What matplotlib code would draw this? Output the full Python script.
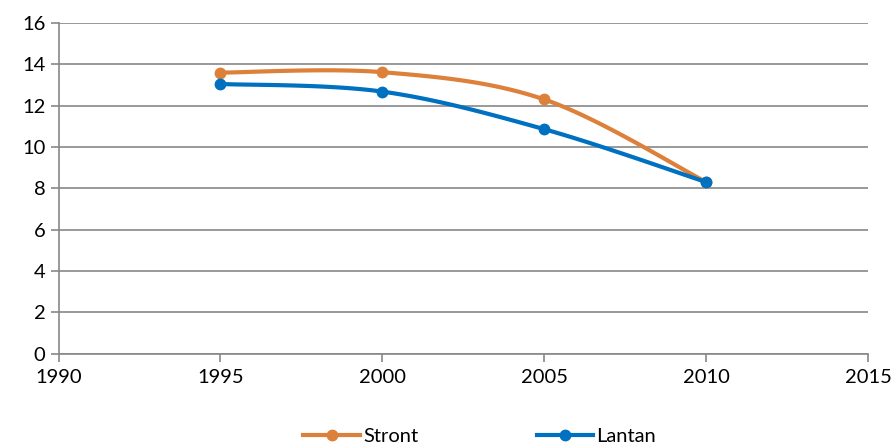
import numpy as np
import matplotlib.pyplot as plt

plt.rcParams['font.family'] = ['Lato', 'DejaVu Sans']

# data
years = [1995, 2000, 2005, 2010]
stront = [13.6, 13.62, 12.3, 8.3]
lantan = [13.05, 12.68, 10.86, 8.3]
series_names = ['Stront', 'Lantan']
series_colors = ['#DD8039', '#0070C0']


def smooth(xs, ys, n=40):
    # Excel-like smoothed line: cubic Bezier with Catmull-Rom control points
    p = np.column_stack([xs, ys]).astype(float)
    p_ext = np.vstack([p[0], p, p[-1]])
    out = []
    t = np.linspace(0, 1, n)[:, None]
    for i in range(len(p) - 1):
        a, b = p_ext[i + 1], p_ext[i + 2]
        c1 = a + (b - p_ext[i]) / 6
        c2 = b - (p_ext[i + 3] - a) / 6
        seg = ((1 - t) ** 3) * a + 3 * ((1 - t) ** 2) * t * c1 + 3 * (1 - t) * t ** 2 * c2 + t ** 3 * b
        out.append(seg if i == 0 else seg[1:])
    out = np.vstack(out)
    return out[:, 0], out[:, 1]


fig = plt.figure(figsize=(8.95, 4.45), dpi=100)
ax = fig.add_axes([0.0654, 0.2052, 0.9048, 0.7431])

grid_col = '#888888'
for name, vals, col in zip(series_names, [stront, lantan], series_colors):
    sx, sy = smooth(years, vals)
    ax.plot(sx, sy, color=col, lw=3, solid_capstyle='round')
    ax.plot(years, vals, 'o', color=col, ms=7.5)
    ax.plot([], [], color=col, lw=3, marker='o', ms=7.5, label=name)

ax.set_xlim(1990, 2015)
ax.set_ylim(0, 16)
ax.set_xticks(range(1990, 2016, 5))
ax.set_yticks(range(0, 17, 2))
ax.yaxis.grid(True, color=grid_col, lw=1.2)
ax.set_axisbelow(True)
for s in ['top', 'right']:
    ax.spines[s].set_visible(False)
for s in ['left', 'bottom']:
    ax.spines[s].set_color(grid_col)
    ax.spines[s].set_linewidth(1.2)
ax.tick_params(axis='both', colors=grid_col, length=6, width=1.2, labelsize=14.5,
               labelcolor='black')
ax.tick_params(axis='x', pad=5)

fig.legend(loc='lower center', ncol=2, frameon=False, fontsize=14.5,
           handlelength=2.8, handletextpad=0.15, columnspacing=5.9,
           bbox_to_anchor=(0.536, -0.04))

fig.savefig('out.png', dpi=100)
